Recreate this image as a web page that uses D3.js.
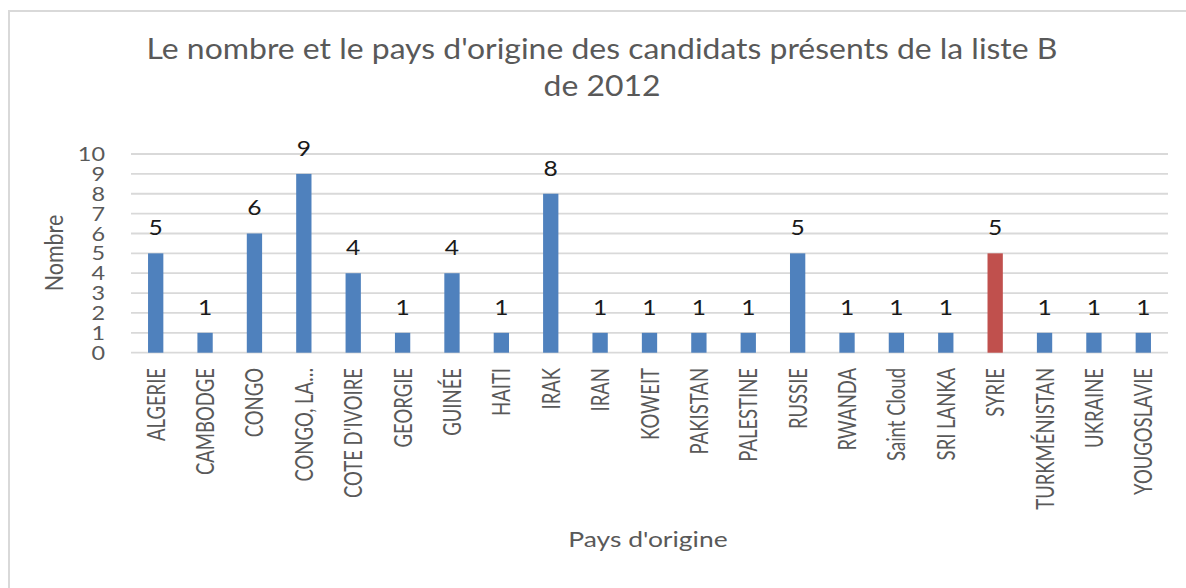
<!DOCTYPE html>
<html>
<head>
<meta charset="utf-8">
<script src="https://cdn.jsdelivr.net/npm/d3@7"></script>
<style>
  html, body { margin: 0; padding: 0; background: #fff; }
  svg { display: block; }
</style>
</head>
<body>
<div id="chart"></div>
<script>
// Data
const pays = ["ALGERIE", "CAMBODGE", "CONGO", "CONGO, LA…", "COTE D'IVOIRE", "GEORGIE", "GUINÉE",
    "HAITI", "IRAK", "IRAN", "KOWEIT", "PAKISTAN", "PALESTINE", "RUSSIE", "RWANDA",
    "Saint Cloud", "SRI LANKA", "SYRIE", "TURKMÉNISTAN", "UKRAINE", "YOUGOSLAVIE"];
const nombres = [5, 1, 6, 9, 4, 1, 4, 1, 8, 1, 1, 1, 1, 5, 1, 1, 1, 5, 1, 1, 1];
const highlighted = ["SYRIE"];
const yTicks = [0, 1, 2, 3, 4, 5, 6, 7, 8, 9, 10];
const titleLines = ["Le nombre et le pays d'origine des candidats présents de la liste B", "de 2012"];

const blue = "#4f81bd";
const red = "#c0504d";
const grey = "#595959";
const gridColor = "#d9d9d9";
const font = "Lato, 'Noto Sans', sans-serif";
const K = 1.2; // the picture is a bit wider than tall

const width = 1186;
const height = 588;
const plot = { left: 131, right: 1168, top: 154, bottom: 352.7 };

const svg = d3.select("#chart")
    .append("svg")
    .attr("width", width)
    .attr("height", height);

// chart frame (runs off the page on the right and bottom)
svg.append("rect")
    .attr("x", 9)
    .attr("y", 11)
    .attr("width", 1300)
    .attr("height", 700)
    .attr("fill", "none")
    .attr("stroke", gridColor)
    .attr("stroke-width", 2);

// Scales
const x = d3.scaleBand()
    .domain(pays)
    .range([plot.left, plot.right])
    .paddingInner(0.69)
    .paddingOuter(0.345);

const y = d3.scaleLinear()
    .domain([0, 10])
    .range([plot.bottom, plot.top]);

// Gridlines
svg.append("g")
    .selectAll("line")
    .data(yTicks)
    .enter().append("line")
    .attr("x1", plot.left)
    .attr("x2", plot.right)
    .attr("y1", d => y(d))
    .attr("y2", d => y(d))
    .attr("stroke", gridColor)
    .attr("stroke-width", 1.8);

// Y tick labels
svg.append("g")
    .selectAll("text")
    .data(yTicks)
    .enter().append("text")
    .attr("transform", d => `translate(105,${y(d)}) scale(${K},1)`)
    .attr("dy", "0.36em")
    .attr("text-anchor", "end")
    .style("font-family", font)
    .style("font-size", "19.5px")
    .style("fill", grey)
    .text(d => d);

// Bars
svg.append("g")
    .selectAll("rect")
    .data(pays)
    .enter().append("rect")
    .attr("x", d => x(d))
    .attr("width", x.bandwidth())
    .attr("y", (d, i) => y(nombres[i]))
    .attr("height", (d, i) => y(0) - y(nombres[i]))
    .attr("fill", d => highlighted.includes(d) ? red : blue);

// Data labels
svg.append("g")
    .selectAll("text")
    .data(pays)
    .enter().append("text")
    .attr("transform", (d, i) => `translate(${x(d) + x.bandwidth() / 2},${y(nombres[i]) - 18}) scale(${K},1)`)
    .attr("text-anchor", "middle")
    .style("font-family", font)
    .style("font-size", "20.5px")
    .style("fill", "#1a1a1a")
    .text((d, i) => nombres[i]);

// X labels, rotated
svg.append("g")
    .selectAll("text")
    .data(pays)
    .enter().append("text")
    .attr("transform", d => `translate(${x(d) + x.bandwidth() / 2 + 9},368) rotate(-90) scale(1,1.3)`)
    .attr("text-anchor", "end")
    .style("font-family", font)
    .style("font-size", "18.5px")
    .style("fill", grey)
    .text(d => d);

// Title
svg.append("g")
    .selectAll("text")
    .data(titleLines)
    .enter().append("text")
    .attr("transform", (d, i) => `translate(602,${i === 0 ? 59 : 96}) scale(1.14,1)`)
    .attr("text-anchor", "middle")
    .style("font-family", font)
    .style("font-size", "28px")
    .style("fill", grey)
    .text(d => d);

// Axis titles
svg.append("text")
    .attr("transform", `translate(63,253) rotate(-90) scale(1,${K})`)
    .attr("text-anchor", "middle")
    .style("font-family", font)
    .style("font-size", "21.5px")
    .style("fill", grey)
    .text("Nombre");

svg.append("text")
    .attr("transform", `translate(648,547) scale(1.26,1)`)
    .attr("text-anchor", "middle")
    .style("font-family", font)
    .style("font-size", "21px")
    .style("fill", grey)
    .text("Pays d'origine");
</script>
</body>
</html>
